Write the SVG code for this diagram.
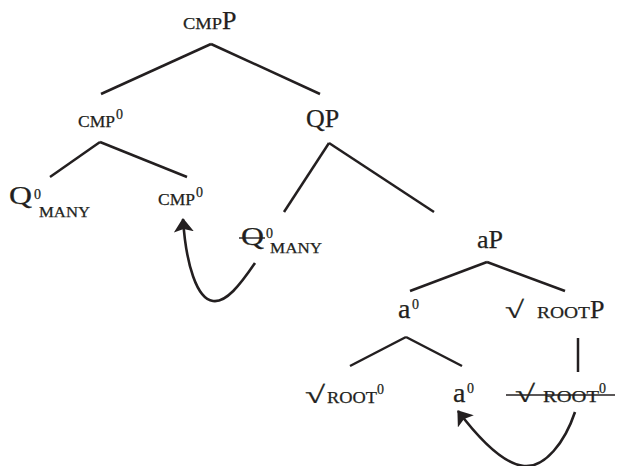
<svg xmlns="http://www.w3.org/2000/svg" width="617" height="466" viewBox="0 0 617 466">
  <style>
    text { font-family: "Liberation Serif", "DejaVu Serif", serif; fill: #231f20; stroke: #231f20; stroke-width: 0.25; }
    .big { font-size: 26px; }
    .a { font-size: 28px; }
    .sc { font-size: 17px; }
    .sup { font-size: 14px; }
    .sub { font-size: 15px; }
    .rad { font-size: 24px; }
    .edge { stroke: #231f20; stroke-width: 2.5; fill: none; stroke-linecap: butt; }
    .move { stroke: #231f20; stroke-width: 2.6; fill: none; }
    .strike { stroke: #231f20; stroke-width: 1.4; }
  </style>
  <defs>
    <marker id="head" markerUnits="userSpaceOnUse" viewBox="0 0 14 20" refX="13" refY="10" markerWidth="14" markerHeight="20" orient="auto">
      <path d="M0,0 L14,10 L0,20 L3,10 Z" fill="#231f20"/>
    </marker>
  </defs>

  <!-- tree edges and movement arrows -->
  <g id="connectors">
    <line class="edge" x1="211" y1="44" x2="101" y2="94"/>
    <line class="edge" x1="211" y1="44" x2="320" y2="94"/>
    <line class="edge" x1="100" y1="142" x2="50" y2="177"/>
    <line class="edge" x1="100" y1="142" x2="187" y2="177"/>
    <line class="edge" x1="329" y1="143" x2="284" y2="212"/>
    <line class="edge" x1="329" y1="143" x2="434" y2="212"/>
    <line class="edge" x1="487" y1="262" x2="410" y2="291"/>
    <line class="edge" x1="487" y1="262" x2="565" y2="291"/>
    <line class="edge" x1="406" y1="337" x2="350" y2="366"/>
    <line class="edge" x1="406" y1="337" x2="462" y2="366"/>
    <line class="edge" x1="578" y1="338" x2="578" y2="372"/>
    <path class="move" d="M255,263 C240,285 226,303 213,301 C197,299 186,265 183,219" marker-end="url(#head)"/>
    <path class="move" d="M575,412 C565,442 545,468 524,466 C503,464 480,440 458,411" marker-end="url(#head)"/>
  </g>

  <g id="cmpP">
    <text x="183" y="29" class="sc" textLength="39" lengthAdjust="spacingAndGlyphs">CMP</text>
    <text x="222" y="29" class="big">P</text>
  </g>

  <g id="cmp0-head">
    <text x="78" y="127" class="sc" textLength="37" lengthAdjust="spacingAndGlyphs">CMP</text>
    <text x="116" y="119" class="sup">0</text>
  </g>

  <g id="QP">
    <text x="306" y="127" class="big">QP</text>
  </g>

  <g id="Q0-many">
    <text x="9" y="204" class="big" textLength="23" lengthAdjust="spacingAndGlyphs">Q</text>
    <text x="34" y="199" class="sup">0</text>
    <text x="39" y="217" class="sub" textLength="51" lengthAdjust="spacingAndGlyphs">MANY</text>
  </g>

  <g id="cmp0-target">
    <text x="158" y="205" class="sc" textLength="37" lengthAdjust="spacingAndGlyphs">CMP</text>
    <text x="196" y="197" class="sup">0</text>
  </g>

  <g id="Q0-many-copy">
    <text x="241" y="245" class="big" textLength="23" lengthAdjust="spacingAndGlyphs">Q</text>
    <text x="266" y="238" class="sup">0</text>
    <text x="270" y="253" class="sub" textLength="52" lengthAdjust="spacingAndGlyphs">MANY</text>
    <line class="strike" x1="239" y1="238" x2="265" y2="238"/>
  </g>

  <g id="aP">
    <text x="477" y="248" class="big">aP</text>
  </g>

  <g id="a0-head">
    <text x="398" y="318" class="a">a</text>
    <text x="412" y="309" class="sup">0</text>
  </g>

  <g id="rootP">
    <text x="505" y="318" class="rad" textLength="19" lengthAdjust="spacingAndGlyphs">√</text>
    <text x="537" y="318" class="sc" textLength="53" lengthAdjust="spacingAndGlyphs">ROOT</text>
    <text x="590" y="318" class="big">P</text>
  </g>

  <g id="root0">
    <text x="305" y="403" class="rad" textLength="20" lengthAdjust="spacingAndGlyphs">√</text>
    <text x="327" y="403" class="sc" textLength="50" lengthAdjust="spacingAndGlyphs">ROOT</text>
    <text x="377" y="394" class="sup">0</text>
  </g>

  <g id="a0-target">
    <text x="453" y="402" class="a">a</text>
    <text x="467" y="393" class="sup">0</text>
  </g>

  <g id="root0-copy">
    <text x="515" y="402" class="rad" textLength="20" lengthAdjust="spacingAndGlyphs">√</text>
    <text x="543" y="402" class="sc" textLength="56" lengthAdjust="spacingAndGlyphs">ROOT</text>
    <text x="599" y="393" class="sup">0</text>
    <line class="strike" x1="506" y1="395" x2="615" y2="395"/>
  </g>
</svg>
